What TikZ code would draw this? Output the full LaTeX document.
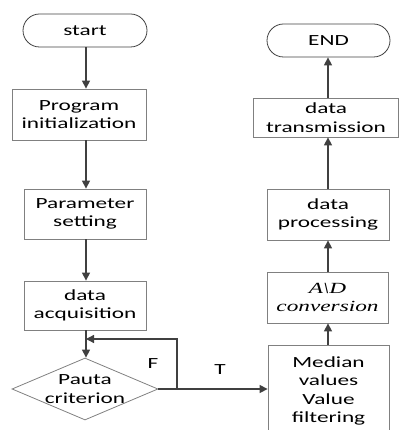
\documentclass[tikz,border=0pt]{standalone}
\usepackage{fontspec}
\setmainfont{Carlito}[FakeStretch=1.5]
\newfontfamily\serifstretch{Liberation Serif}[FakeStretch=1.5]
\usetikzlibrary{shapes.geometric,shapes.misc,arrows.meta}
\definecolor{linecol}{HTML}{404040}
\definecolor{boxcol}{HTML}{808080}
\begin{document}
\begin{tikzpicture}[x=1pt,y=-1pt,
  txt/.style={font=\fontsize{15.5}{18.5}\selectfont, align=center, text=black},
  procbox/.style={txt, draw=boxcol, line width=0.8pt, rectangle, inner sep=0pt},
  termbox/.style={txt, draw=linecol, line width=0.8pt, rounded rectangle, inner sep=0pt},
  decbox/.style={txt, draw=boxcol, line width=0.8pt, diamond, inner sep=0pt},
  flow/.style={draw=linecol, line width=1.3pt, -{Triangle[length=8pt,width=8pt]}},
  plain/.style={draw=linecol, line width=1.3pt}
]
\useasboundingbox (0,0) rectangle (399,430);
\coordinate (colL) at (86,0);
\coordinate (colR) at (328,0);
% left column
\node[termbox, minimum width=124pt, minimum height=33pt] (start) at (85,30.5) {start};
\node[procbox, minimum width=134pt, minimum height=51pt] (prog) at (79,114.5) {Program\\initialization};
\node[procbox, minimum width=122pt, minimum height=50pt] (param) at (85,214) {Parameter\\setting};
\node[procbox, minimum width=122pt, minimum height=49pt] (acq) at (85,305.5) {data\\acquisition};
\node[decbox, minimum width=146pt, minimum height=62pt] (pauta) at (85,389) {};
\node[txt] (pautatxt) at (85,389) {Pauta\\criterion};
% right column
\node[termbox, minimum width=123pt, minimum height=33pt] (end) at (328.5,40.5) {END};
\node[procbox, minimum width=145pt, minimum height=39pt] (trans) at (326,117.5) {data\\transmission};
\node[procbox, minimum width=122pt, minimum height=51pt] (proc) at (328,214.5) {data\\processing};
\node[procbox, minimum width=121pt, minimum height=51pt] (adc) at (327.5,297.5) {\serifstretch\itshape A\textbackslash D\\[-1pt]\serifstretch\itshape conversion};
\node[procbox, minimum width=121pt, minimum height=92pt] (median) at (328.5,391) {Median\\values\\Value\\filtering};
% connectors
\draw[flow] (start.south -| colL) -- (prog.north -| colL);
\draw[flow] (prog.south -| colL) -- (param.north -| colL);
\draw[flow] (param.south -| colL) -- (acq.north -| colL);
\draw[flow] (acq.south -| colL) -- (pauta.north -| colL);
\coordinate (fb1) at (177,389);
\coordinate (fb2) at (177,339);
\coordinate (fb3) at (86,339);
\draw[plain] (pauta.east) -- (fb1);
\draw[flow] (fb1) -- (fb2) -- (fb3);
\draw[flow] (fb1) -- (median.west |- fb1);
\node[txt] (F) at (153,364) {F};
\node[txt] (T) at (220,370) {T};
\draw[flow] (median.north -| colR) -- (adc.south -| colR);
\draw[flow] (adc.north -| colR) -- (proc.south -| colR);
\draw[flow] (proc.north -| colR) -- (trans.south -| colR);
\draw[flow] (trans.north -| colR) -- (end.south -| colR);
\end{tikzpicture}
\end{document}
